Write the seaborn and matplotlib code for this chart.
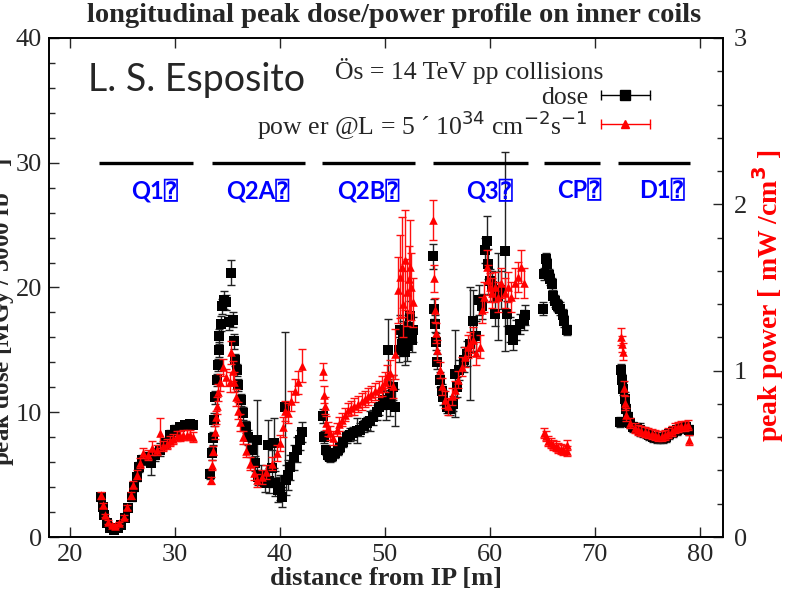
import numpy as np
import matplotlib
matplotlib.use("Agg")
import matplotlib.pyplot as plt
import seaborn as sns
from matplotlib.ticker import MultipleLocator

# ---------------- data ----------------
dose_x = [23.0, 23.1, 23.2, 23.5, 23.8, 24.2, 24.6, 24.9, 25.2, 25.55, 25.9, 26.1, 26.35, 26.6, 26.9,
          27.3, 27.7, 28.1, 28.6, 29.05, 29.5, 30.0, 30.5, 30.95, 31.4, 31.7,
          33.33, 33.5, 33.65, 33.75, 33.8, 34.0, 34.1, 34.15, 34.2, 34.4, 34.5, 34.7, 34.9, 35.1, 35.3,
          35.5, 35.65, 35.7, 35.9, 36.0, 36.3, 36.5, 36.8, 37.0, 37.3, 37.6, 37.8, 37.9, 38.2, 38.6,
          38.9, 39.0, 39.2, 39.4, 39.5, 39.8, 40.0, 40.2, 40.5, 40.6, 40.8, 41.0, 41.3, 41.6, 41.9, 42.1,
          44.1, 44.2, 44.4, 44.6, 44.8, 45.0, 45.2, 45.5, 45.7, 46.0, 46.35, 46.7, 47.0, 47.3, 47.6,
          48.0, 48.25, 48.6, 48.9, 49.2, 49.4, 49.8, 50.1, 50.3, 50.5, 50.8, 51.0, 51.3, 51.4, 51.6,
          51.75, 51.9, 52.1, 52.25, 52.4, 52.55, 52.7,
          54.6, 54.7, 54.8, 54.9, 55.0, 55.2, 55.4, 55.55, 55.9, 56.2, 56.5, 56.7, 56.9, 57.1, 57.5,
          57.8, 58.1, 58.4, 58.7, 59.0, 59.2, 59.5, 59.7, 59.8, 60.0, 60.2, 60.5, 60.8, 61.1, 61.4,
          61.6, 61.9, 62.2, 62.5, 62.9, 63.2, 63.3,
          65.1, 65.15, 65.3, 65.45, 65.6, 65.75, 65.9, 66.0, 66.2, 66.35, 66.5, 66.7, 67.0, 67.1, 67.3,
          72.4, 72.5, 72.6, 72.7, 72.85, 73.0, 73.2, 73.3, 73.65, 74.0, 74.3, 74.6, 74.9, 75.2, 75.55,
          75.9, 76.2, 76.5, 76.8, 77.1, 77.4, 77.8, 78.1, 78.4, 78.7, 79.0]
dose_y = [3.2, 2.4, 1.75, 1.1, 0.7, 0.55, 0.7, 0.95, 1.5, 2.3, 3.2, 4.0, 4.8, 5.6, 6.2,
          6.4, 5.9, 6.6, 7.0, 7.5, 8.2, 8.6, 8.85, 9.0, 9.05, 9.0,
          5.05, 6.7, 7.9, 9.4, 11.2, 12.6, 13.8, 15.0, 16.1, 17.1, 18.5, 19.0, 18.8, 17.2, 21.2,
          17.4, 15.7, 14.2, 13.4, 12.2, 11.0, 9.9, 8.8, 8.0, 7.0, 5.9, 7.8, 4.8, 5.0, 4.3,
          7.4, 4.5, 5.5, 7.5, 4.3, 3.8, 4.0, 3.2, 10.4, 4.6, 5.0, 5.6, 6.4, 7.0, 7.8, 8.4,
          9.7, 8.0, 7.0, 6.6, 6.4, 6.5, 6.7, 7.0, 7.2, 7.6, 8.0, 8.2, 8.3, 8.5, 8.6,
          8.9, 9.1, 9.3, 9.6, 10.0, 10.4, 11.0, 10.6, 15.0, 11.2, 12.0, 10.4, 15.0, 16.6, 15.5,
          16.1, 14.8, 15.3, 16.8, 17.7, 15.8, 16.6,
          22.5, 18.3, 17.1, 15.65, 14.05, 12.6, 11.7, 11.2, 10.45, 10.3, 10.7, 13.1, 12.05, 13.4, 14.2,
          14.7, 15.5, 17.3, 16.1, 19.0, 18.5, 23.0, 23.7, 21.9, 20.5, 20.1, 17.9, 19.3, 19.8, 22.9,
          17.9, 16.6, 15.8, 16.6, 17.1, 17.4, 17.8,
          18.3, 21.1, 22.3, 21.9, 21.0, 20.7, 20.3, 19.3, 18.9, 18.6, 18.5, 18.3, 17.8, 17.3, 16.6,
          9.2, 13.4, 12.6, 11.9, 11.1, 10.3, 9.65, 9.1, 8.85, 8.7, 8.6, 8.45, 8.3, 8.15, 8.05,
          7.95, 7.9, 7.95, 8.05, 8.25, 8.45, 8.6, 8.7, 8.8, 8.85, 8.6]
dose_err = [0.3, 0.2, 0.2, 0.15, 0.1, 0.1, 0.1, 0.15, 0.2, 0.2, 0.3, 0.3, 0.3, 0.4, 0.4,
            0.4, 0.9, 0.5, 0.5, 0.4, 0.4, 0.4, 0.3, 0.3, 0.3, 0.3,
            0.4, 0.5, 0.5, 0.5, 0.5, 0.5, 0.5, 0.6, 0.6, 0.6, 0.6, 0.7, 0.6, 0.6, 1.0,
            0.6, 0.6, 0.5, 0.5, 0.5, 0.5, 0.5, 0.5, 0.6, 0.6, 0.6, 3.2, 0.6, 0.8, 0.7,
            2.0, 1.0, 1.5, 2.0, 1.0, 1.0, 1.0, 0.8, 6.0, 1.2, 1.2, 1.0, 1.0, 1.0, 0.8, 0.8,
            0.6, 0.5, 0.4, 0.4, 0.4, 0.4, 0.4, 0.4, 0.4, 0.4, 0.5, 0.5, 0.5, 1.0, 0.5,
            0.5, 0.5, 0.8, 0.6, 0.6, 0.6, 0.7, 1.2, 2.5, 1.5, 1.0, 1.5, 1.0, 1.2, 1.0,
            1.2, 1.0, 1.2, 1.0, 1.2, 1.0, 1.0,
            1.0, 0.8, 0.7, 0.7, 0.6, 0.6, 0.6, 0.6, 0.5, 0.5, 0.6, 3.5, 0.8, 0.8, 1.0,
            1.0, 4.5, 2.5, 1.2, 1.2, 1.0, 1.0, 2.0, 1.2, 1.0, 1.2, 1.0, 3.5, 1.5, 8.0,
            1.0, 1.0, 0.8, 0.8, 0.8, 0.8, 0.8,
            0.5, 0.5, 0.5, 0.5, 0.5, 0.5, 0.5, 0.5, 0.5, 0.5, 0.5, 0.5, 0.5, 0.5, 0.4,
            0.4, 0.5, 0.5, 0.5, 0.5, 0.4, 0.4, 0.4, 0.4, 0.4, 0.5, 0.4, 0.4, 0.4, 0.4,
            0.4, 0.4, 0.4, 0.4, 0.4, 0.4, 0.4, 0.4, 0.4, 0.4, 0.4]

power_x = [23.0, 23.1, 23.3, 23.65, 24.0, 24.3, 24.7, 25.1, 25.45, 25.8, 26.0, 26.35, 26.7, 27.0,
           27.45, 27.8, 28.25, 28.6, 28.9, 29.2, 29.5, 29.8, 30.15, 30.5, 30.8, 31.1, 31.4, 31.7,
           33.4, 33.5, 33.6, 33.8, 33.9, 34.0, 34.1, 34.3, 34.6, 34.9, 35.2, 35.3, 35.5, 35.65, 35.8,
           36.0, 36.2, 36.5, 36.8, 37.1, 37.5, 37.8, 38.3, 38.7, 39.2, 39.7, 40.0, 40.3, 40.5, 40.8,
           41.1, 41.4, 41.7, 42.1,
           44.1, 44.15, 44.25, 44.4, 44.6, 44.8, 45.1, 45.4, 45.65, 45.9, 46.2, 46.5, 46.8, 47.1,
           47.45, 47.8, 48.1, 48.4, 48.7, 49.05, 49.4, 49.7, 50.0, 50.2, 50.5, 50.8, 51.0, 51.2,
           51.4, 51.6, 51.75, 51.9, 52.1, 52.25, 52.4, 52.5, 52.7,
           54.6, 54.7, 54.8, 54.9, 55.0, 55.2, 55.4, 55.7, 56.0, 56.35, 56.7, 57.0, 57.3, 57.6, 57.9,
           58.15, 58.4, 58.7, 59.05, 59.2, 59.4, 59.7, 59.8, 60.0, 60.2, 60.5, 60.8, 61.1, 61.4,
           61.7, 62.0, 62.4, 62.7, 63.0, 63.2,
           65.15, 65.3, 65.55, 65.8, 66.0, 66.25, 66.5, 66.75, 67.0, 67.3, 67.35,
           72.5, 72.6, 72.7, 72.75, 72.85, 73.0, 73.3, 73.8, 74.1, 74.4, 74.75, 75.1, 75.4, 75.7,
           76.0, 76.35, 76.7, 77.0, 77.3, 77.6, 77.9, 78.2, 78.55, 78.9, 79.0]
power_y = [0.25, 0.19, 0.13, 0.09, 0.07, 0.066, 0.082, 0.12, 0.18, 0.25, 0.315, 0.375, 0.445, 0.505,
           0.495, 0.535, 0.525, 0.625, 0.545, 0.56, 0.575, 0.59, 0.605, 0.61, 0.615, 0.615, 0.615, 0.6,
           0.34, 0.43, 0.52, 0.63, 0.72, 0.79, 0.87, 0.93, 1.02, 0.96, 0.93, 1.11, 1.00, 0.93, 0.84,
           0.76, 0.69, 0.60, 0.52, 0.44, 0.385, 0.34, 0.36, 0.39, 0.44, 0.505, 0.565, 0.66, 0.76, 0.745,
           0.82, 0.88, 0.93, 1.03,
           0.995, 0.855, 0.79, 0.685, 0.65, 0.625, 0.595, 0.645, 0.68, 0.705, 0.735, 0.765, 0.775, 0.785,
           0.80, 0.815, 0.83, 0.845, 0.86, 0.875, 0.89, 0.905, 0.93, 0.965, 0.985, 0.905, 1.10, 1.485,
           1.565, 1.625, 1.40, 1.665, 1.47, 1.55, 1.625, 1.505, 1.41,
           1.905, 1.555, 1.365, 1.225, 1.125, 1.005, 0.905, 0.825, 0.785, 0.845, 0.885, 0.945, 1.025,
           1.085, 1.145, 1.16, 1.185, 1.105, 1.145, 1.365, 1.445, 1.625, 1.545, 1.50, 1.465, 1.505,
           1.445, 1.525, 1.465, 1.505, 1.445, 1.525, 1.565, 1.625, 1.525,
           0.625, 0.605, 0.575, 0.565, 0.555, 0.545, 0.535, 0.53, 0.525, 0.515, 0.555,
           1.205, 1.16, 1.115, 0.895, 0.805, 0.735, 0.685, 0.655, 0.645, 0.635, 0.63, 0.625, 0.62, 0.615,
           0.61, 0.605, 0.615, 0.625, 0.64, 0.655, 0.66, 0.665, 0.67, 0.675, 0.585]
power_err = [0.02, 0.015, 0.01, 0.01, 0.01, 0.01, 0.01, 0.01, 0.015, 0.02, 0.02, 0.025, 0.03, 0.03,
             0.03, 0.04, 0.03, 0.09, 0.03, 0.03, 0.03, 0.03, 0.03, 0.03, 0.03, 0.03, 0.03, 0.03,
             0.02, 0.03, 0.03, 0.04, 0.04, 0.05, 0.05, 0.05, 0.05, 0.05, 0.06, 0.07, 0.06, 0.06, 0.05,
             0.05, 0.05, 0.04, 0.04, 0.04, 0.04, 0.04, 0.04, 0.04, 0.04, 0.05, 0.05, 0.06, 0.06, 0.06,
             0.06, 0.07, 0.07, 0.1,
             0.05, 0.05, 0.05, 0.04, 0.04, 0.04, 0.04, 0.04, 0.04, 0.04, 0.04, 0.04, 0.04, 0.05,
             0.05, 0.05, 0.05, 0.05, 0.05, 0.05, 0.05, 0.06, 0.06, 0.07, 0.08, 0.07, 0.15, 0.2,
             0.25, 0.3, 0.2, 0.3, 0.2, 0.2, 0.28, 0.2, 0.15,
             0.12, 0.08, 0.07, 0.06, 0.06, 0.05, 0.05, 0.05, 0.05, 0.05, 0.05, 0.05, 0.06, 0.06, 0.07,
             0.07, 0.08, 0.07, 0.07, 0.08, 0.09, 0.1, 0.09, 0.09, 0.09, 0.09, 0.09, 0.09, 0.09,
             0.09, 0.09, 0.09, 0.09, 0.1, 0.09,
             0.03, 0.03, 0.03, 0.03, 0.03, 0.03, 0.03, 0.03, 0.03, 0.03, 0.03,
             0.05, 0.05, 0.05, 0.04, 0.04, 0.04, 0.03, 0.03, 0.03, 0.03, 0.03, 0.03, 0.03, 0.03,
             0.03, 0.03, 0.03, 0.03, 0.03, 0.03, 0.03, 0.03, 0.03, 0.03, 0.03]

magnet_names = ["Q1", "Q2A", "Q2B", "Q3", "CP", "D1"]
magnet_start = [22.8, 33.5, 44.0, 54.6, 65.2, 72.2]
magnet_end = [31.7, 42.4, 52.9, 63.6, 70.5, 79.1]
magnet_label_x = [28.1, 37.9, 48.4, 60.0, 68.5, 76.4]
magnet_bar_y = 30
magnet_label_y = 27.8

x_ticks = [20, 30, 40, 50, 60, 70, 80]
dose_ticks = [0, 10, 20, 30, 40]
power_ticks = [0, 1, 2, 3]

# ---------------- style ----------------
sns.set_style("ticks")
SERIF = ["Liberation Serif", "DejaVu Serif"]
plt.rcParams["font.family"] = SERIF

fig = plt.figure(figsize=(7.89, 5.99), dpi=100)
ax = fig.add_axes([0.0621, 0.1035, 0.8542, 0.8331])
ax2 = ax.twinx()

# dose (black squares)
ax.errorbar(dose_x, dose_y, yerr=dose_err, fmt="none", ecolor="#222222",
            elinewidth=1.0, capsize=3, capthick=1.0, zorder=2)
sns.scatterplot(x=dose_x, y=dose_y, marker="s", color="black", s=48,
                linewidth=0, ax=ax, zorder=3, legend=False)

# power (red triangles)
ax2.errorbar(power_x, power_y, yerr=power_err, fmt="none", ecolor="#ff1010",
             elinewidth=1.0, capsize=3, capthick=1.0, zorder=2)
sns.scatterplot(x=power_x, y=power_y, marker="^", color="#ff0000", s=38,
                linewidth=0, ax=ax2, zorder=3, legend=False)

# magnet bars and names
ax.hlines([magnet_bar_y] * len(magnet_start), magnet_start, magnet_end,
          colors="black", linewidth=2.4, zorder=4)
for name, lx in zip(magnet_names, magnet_label_x):
    ax.text(lx, magnet_label_y, name + "\u2370", color="#0000ff", fontsize=17,
            fontweight="bold", family=["Lato", "DejaVu Sans", "DejaVu Sans Mono"],
            ha="center", va="center", zorder=5)

# axes limits / ticks
ax.set_xlim(18, 82.2)
ax.set_ylim(0, 40)
ax2.set_ylim(0, 3)
ax.set_xticks(x_ticks)
ax.set_yticks(dose_ticks)
ax2.set_yticks(power_ticks)
ax.yaxis.set_minor_locator(MultipleLocator(2))
ax2.yaxis.set_minor_locator(MultipleLocator(0.2))

ax.tick_params(axis="both", which="major", direction="in", length=7, width=1.0,
               labelsize=19, top=True, right=False, pad=5)
ax.tick_params(axis="y", which="minor", direction="in", length=4, width=1.0)
ax2.tick_params(axis="y", which="major", direction="in", length=7, width=1.0,
                labelsize=19, pad=8)
ax2.tick_params(axis="y", which="minor", direction="in", length=4, width=1.0)
for a in (ax, ax2):
    for sp in a.spines.values():
        sp.set_visible(True)
        sp.set_linewidth(1.2)
        sp.set_color("black")

ax.set_ylabel("")
ax2.set_ylabel("")
ax.set_xlabel("distance from IP [m]", fontsize=19, fontweight="bold", labelpad=1)

fig.text(0.5, 0.974, "longitudinal peak dose/power profile on inner coils",
         ha="center", va="center", fontsize=20.5, fontweight="bold")
fig.text(0.973, 0.506, "peak power [ mW /cm$^{\\mathbf{3}}$ ]", rotation=90, color="#ff0000",
         ha="center", va="center", fontsize=20, fontweight="bold")
fig.text(0.002, 0.48, "peak dose [MGy / 3000 fb$^{-1}$]", rotation=90,
         ha="center", va="center", fontsize=18, fontweight="bold")

# annotation / legend block
ax.text(0.058, 0.916, "L. S. Esposito", transform=ax.transAxes, fontsize=27,
        family=["Lato", "DejaVu Sans"], ha="left", va="center")
ax.text(0.424, 0.934, "\u00d6s = 14 TeV pp collisions", transform=ax.transAxes,
        fontsize=18.5, ha="left", va="center")
ax.text(0.800, 0.880, "dose", transform=ax.transAxes, fontsize=18.5, ha="right", va="center")
ax.text(0.800, 0.826, "pow er @L = 5 \u00b4 10$^{34}$ cm$^{-2}$s$^{-1}$", transform=ax.transAxes,
        fontsize=18.5, ha="right", va="center")
for yy, col, mk, ms in [(0.886, "black", "s", 7), (0.828, "#ff0000", "^", 5.5)]:
    ax.plot([0.819, 0.892], [yy, yy], transform=ax.transAxes, color=col, lw=1.0,
            marker="|", markersize=7, markevery=[0, 1], clip_on=False, zorder=6)
    ax.plot([0.855], [yy], transform=ax.transAxes, color=col, marker=mk, markersize=ms,
            linestyle="none", clip_on=False, zorder=6)

fig.savefig("out.png", dpi=100)
